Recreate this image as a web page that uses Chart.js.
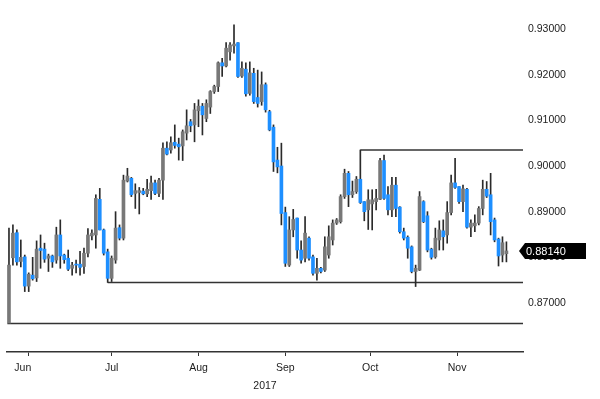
<!DOCTYPE html>
<html><head><meta charset="utf-8">
<script src="https://cdn.jsdelivr.net/npm/chart.js@4.4.1/dist/chart.umd.min.js"></script>
<style>html,body{margin:0;padding:0;background:#fff;}</style>
</head><body>
<canvas id="c" width="600" height="399"></canvas>
<script>
const opens = [0.8656,0.8799,0.8854,0.8791,0.8801,0.8737,0.8761,0.8755,0.8820,0.8818,
0.8798,0.8803,0.8794,0.8849,0.8805,0.8798,0.8776,0.8785,0.8785,0.8780,
0.8809,0.8847,0.8849,0.8927,0.8860,0.8812,0.8754,0.8794,0.8865,0.8842,
0.8967,0.8973,0.8940,0.8942,0.8945,0.8939,0.8946,0.8963,0.8940,0.8969,
0.9039,0.9035,0.9052,0.9048,0.9044,0.9072,0.9097,0.9090,0.9121,0.9131,
0.9104,0.9129,0.9163,0.9174,0.9226,0.9219,0.9250,0.9263,0.9270,0.9197,
0.9212,0.9159,0.9203,0.9150,0.9141,0.9178,0.9119,0.9085,0.9013,0.9000,
0.8898,0.8783,0.8860,0.8886,0.8816,0.8798,0.8842,0.8801,0.8765,0.8776,
0.8772,0.8805,0.8838,0.8875,0.8878,0.8933,0.8984,0.8937,0.8944,0.8971,
0.8922,0.8904,0.8917,0.8922,0.8927,0.9012,0.8937,0.8904,0.8958,0.8910,
0.8856,0.8844,0.8823,0.8769,0.8772,0.8922,0.8891,0.8818,0.8801,0.8838,
0.8858,0.8849,0.8898,0.8963,0.8955,0.8922,0.8949,0.8866,0.8869,0.8875,
0.8907,0.8949,0.8937,0.8882,0.8840,0.8805,0.8808];
const highs = [0.8864,0.8871,0.8860,0.8838,0.8805,0.8766,0.8800,0.8836,0.8849,0.8831,
0.8807,0.8805,0.8866,0.8882,0.8807,0.8816,0.8789,0.8794,0.8813,0.8820,
0.8863,0.8860,0.8937,0.8951,0.8862,0.8818,0.8803,0.8900,0.8871,0.8980,
0.8995,0.8975,0.8961,0.8953,0.8951,0.8971,0.8978,0.8969,0.8973,0.9051,
0.9053,0.9064,0.9090,0.9061,0.9079,0.9123,0.9102,0.9137,0.9145,0.9137,
0.9145,0.9165,0.9177,0.9228,0.9236,0.9270,0.9270,0.9309,0.9270,0.9228,
0.9226,0.9228,0.9214,0.9210,0.9206,0.9182,0.9122,0.9090,0.9041,0.9050,
0.8910,0.8889,0.8905,0.8886,0.8836,0.8889,0.8845,0.8805,0.8798,0.8778,
0.8845,0.8869,0.8882,0.8885,0.8937,0.8993,0.8988,0.8967,0.8977,0.9035,
0.8922,0.8948,0.8948,0.8949,0.9017,0.9024,0.8955,0.8975,0.8975,0.8911,
0.8864,0.8847,0.8825,0.8783,0.8944,0.8924,0.8900,0.8820,0.8864,0.8880,
0.8882,0.8922,0.8980,0.9017,0.8955,0.8958,0.8951,0.8882,0.8893,0.8911,
0.8969,0.8966,0.8984,0.8886,0.8842,0.8845,0.8834];
const lows = [0.8655,0.8783,0.8783,0.8779,0.8725,0.8725,0.8750,0.8747,0.8776,0.8789,
0.8769,0.8778,0.8787,0.8776,0.8787,0.8771,0.8761,0.8766,0.8761,0.8765,
0.8801,0.8838,0.8820,0.8860,0.8805,0.8745,0.8747,0.8787,0.8838,0.8838,
0.8965,0.8933,0.8907,0.8895,0.8937,0.8933,0.8927,0.8937,0.8933,0.8927,
0.9024,0.9028,0.9039,0.9013,0.9012,0.9057,0.9075,0.9053,0.9086,0.9068,
0.9097,0.9115,0.9159,0.9163,0.9196,0.9217,0.9232,0.9247,0.9194,0.9194,
0.9153,0.9155,0.9137,0.9129,0.9133,0.9118,0.9077,0.8988,0.8985,0.8871,
0.8780,0.8780,0.8845,0.8798,0.8787,0.8790,0.8794,0.8761,0.8750,0.8766,
0.8769,0.8798,0.8827,0.8872,0.8875,0.8929,0.8911,0.8931,0.8940,0.8918,
0.8880,0.8861,0.8860,0.8904,0.8926,0.8927,0.8893,0.8889,0.8889,0.8853,
0.8838,0.8798,0.8766,0.8736,0.8771,0.8876,0.8812,0.8796,0.8798,0.8816,
0.8816,0.8831,0.8893,0.8951,0.8918,0.8900,0.8864,0.8845,0.8856,0.8871,
0.8893,0.8931,0.8849,0.8834,0.8781,0.8790,0.8790];
const closes = [0.8783,0.8853,0.8790,0.8800,0.8737,0.8763,0.8753,0.8818,0.8815,0.8796,
0.8803,0.8790,0.8849,0.8803,0.8795,0.8774,0.8783,0.8783,0.8778,0.8809,
0.8849,0.8853,0.8929,0.8860,0.8809,0.8754,0.8798,0.8864,0.8842,0.8969,
0.8978,0.8937,0.8946,0.8946,0.8939,0.8949,0.8963,0.8940,0.8969,0.9039,
0.9026,0.9051,0.9045,0.9042,0.9075,0.9088,0.9088,0.9123,0.9131,0.9112,
0.9137,0.9163,0.9174,0.9226,0.9219,0.9258,0.9265,0.9267,0.9196,0.9214,
0.9158,0.9204,0.9141,0.9137,0.9178,0.9123,0.9079,0.9009,0.8998,0.8896,
0.8787,0.8860,0.8883,0.8816,0.8794,0.8853,0.8798,0.8765,0.8776,0.8769,
0.8823,0.8845,0.8875,0.8882,0.8933,0.8984,0.8937,0.8944,0.8971,0.8920,
0.8900,0.8926,0.8926,0.8929,0.9012,0.8929,0.8904,0.8958,0.8907,0.8856,
0.8842,0.8820,0.8769,0.8776,0.8933,0.8878,0.8816,0.8800,0.8842,0.8860,
0.8845,0.8898,0.8963,0.8953,0.8922,0.8950,0.8866,0.8875,0.8875,0.8907,
0.8949,0.8934,0.8878,0.8838,0.8803,0.8832,0.8814];

const monthNames = ['Jun','Jul','Aug','Sep','Oct','Nov'];
const monthLabelAt = [3.5, 26, 48, 70, 91.5, 113.5];
const monthStarts = [15.5, 36.5, 59.5, 80.5, 102.5, 124.5];
const yearLabel = '2017';
const yTickValues = [0.87, 0.88, 0.89, 0.90, 0.91, 0.92, 0.93];
const levelValues = [0.8655, 0.8745, 0.9035];
const levelStartIdx = [-0.4, 25, 89];
const X_MIN = -0.5, X_MAX = 130.2, Y_MIN = 0.85927, Y_MAX = 0.93635;

const idx = opens.map((_, i) => i);
const up = idx.map(i => closes[i] >= opens[i]);
const UP = '#787878', DOWN = '#1e8fff', WICK = '#2a2a2a', AXIS = '#333333';
const FAMILY = "'Liberation Sans',Arial,sans-serif";
const FONT = {family: FAMILY, size: 10.5};
const TXT = '#1c1c1c';

const bodyData = idx.map(i => ({x: i, y: [Math.min(opens[i], closes[i]), Math.max(opens[i], closes[i])]}));
const wickData = idx.map(i => ({x: i, y: [lows[i], highs[i]]}));
const levelSets = levelValues.map((v, k) => ({
  type: 'line',
  data: [{x: levelStartIdx[k], y: v}, {x: X_MAX, y: v}],
  borderColor: AXIS, borderWidth: 1.5, pointRadius: 0, fill: false
}));

const noPad = a => { a.paddingTop = 0; a.paddingBottom = 0; a.paddingLeft = 0; a.paddingRight = 0; };

const tagPlugin = {
  id: 'tag',
  afterDraw(chart) {
    const c = chart.ctx, y = Math.round(chart.scales.y.getPixelForValue(closes[closes.length - 1]));
    const x0 = chart.chartArea.right - 4;
    c.save();
    c.fillStyle = '#000';
    c.beginPath();
    c.moveTo(x0, y);
    c.lineTo(x0 + 6, y - 8);
    c.lineTo(586, y - 8);
    c.lineTo(586, y + 8);
    c.lineTo(x0 + 6, y + 8);
    c.closePath();
    c.fill();
    c.fillStyle = '#fff';
    c.font = '11px ' + FAMILY;
    c.textBaseline = 'middle';
    c.textAlign = 'left';
    c.fillText(closes[closes.length - 1].toFixed(5), chart.chartArea.right + 3, y + 0.5);
    c.restore();
  }
};

new Chart(document.getElementById('c'), {
  type: 'bar',
  data: {
    datasets: [
      {data: bodyData, backgroundColor: idx.map(i => up[i] ? UP : DOWN), barThickness: 3, grouped: false, minBarLength: 1},
      {data: wickData, backgroundColor: WICK, barThickness: 1, grouped: false},
      ...levelSets
    ]
  },
  options: {
    responsive: false,
    devicePixelRatio: 1,
    animation: false,
    layout: {padding: {left: 7, top: 0, right: 0, bottom: 0}},
    plugins: {legend: {display: false}, tooltip: {enabled: false}},
    scales: {
      x: {
        type: 'linear', min: X_MIN, max: X_MAX, offset: false,
        grid: {drawOnChartArea: false, drawTicks: true, tickLength: 4,
               tickColor: ctx => (ctx.tick && monthStarts.includes(ctx.tick.value)) ? AXIS : 'rgba(0,0,0,0)', tickWidth: 1},
        border: {display: true, color: AXIS, width: 1.5},
        ticks: {autoSkip: false, maxRotation: 0, font: FONT, color: TXT, padding: 6,
                callback: v => { const k = monthLabelAt.indexOf(v); return k >= 0 ? monthNames[k] : ''; }},
        afterBuildTicks: a => { a.ticks = monthStarts.concat(monthLabelAt).map(v => ({value: v})); },
        title: {display: true, text: yearLabel, font: FONT, color: TXT, padding: {top: 0, bottom: 7}},
        afterFit: a => { a.height = 47; noPad(a); }
      },
      y: {
        position: 'right', min: Y_MIN, max: Y_MAX,
        grid: {display: false, drawTicks: false}, border: {display: false},
        ticks: {font: FONT, color: TXT, padding: 5, callback: v => Number(v).toFixed(5)},
        afterBuildTicks: a => { a.ticks = yTickValues.map(v => ({value: v})); },
        afterFit: a => { a.width = 77; noPad(a); }
      }
    }
  },
  plugins: [tagPlugin]
});
</script>
</body></html>
